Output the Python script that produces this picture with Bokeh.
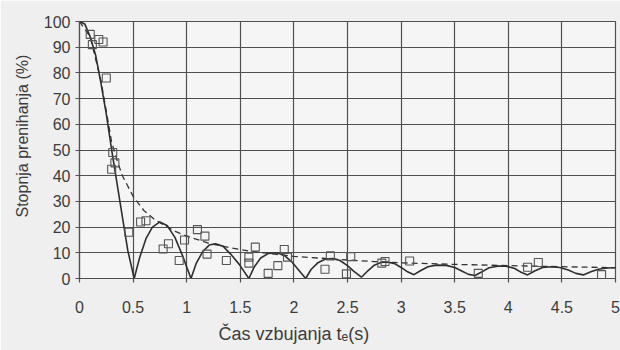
from bokeh.plotting import figure
from bokeh.models import Range1d, FixedTicker, Title
from bokeh.embed import file_html
from bokeh.resources import INLINE

# ---- data ----
curve_x = [0.00, 0.05, 0.10, 0.15, 0.20, 0.25, 0.30, 0.35, 0.40, 0.45, 0.51,
           0.56, 0.62, 0.68, 0.75, 0.82, 0.89, 0.96, 1.04,
           1.09, 1.15, 1.21, 1.27, 1.34, 1.41, 1.49, 1.58,
           1.63, 1.69, 1.76, 1.84, 1.91, 1.98, 2.04, 2.11,
           2.16, 2.22, 2.29, 2.36, 2.43, 2.50, 2.56, 2.63,
           2.69, 2.75, 2.81, 2.87, 2.94, 3.00, 3.06, 3.12,
           3.18, 3.25, 3.33, 3.42, 3.50, 3.57, 3.63, 3.69,
           3.75, 3.82, 3.90, 3.98, 4.06, 4.12, 4.18,
           4.25, 4.32, 4.40, 4.48, 4.56, 4.63, 4.70,
           4.77, 4.84, 4.92, 5.00]
curve_y = [100, 99, 94, 87, 76, 64, 50, 37, 24, 11, 0,
           8, 15.5, 20, 22, 20.5, 16, 9, 0,
           6, 10.5, 13, 13.5, 12.5, 9.5, 5.5, 0,
           4.5, 8, 9.7, 10, 9, 6.5, 3.5, 0,
           3.5, 6, 7.5, 7.8, 7, 5, 2.8, 0.5,
           3, 5.2, 6.2, 6.4, 5.8, 4.3, 2.6, 1.5,
           3, 4.6, 5.2, 5.1, 4.3, 2.8, 1.6, 1.2,
           2.5, 4.2, 4.8, 4.8, 3.9, 2.4, 1.4,
           3, 4.3, 4.6, 4.3, 3.3, 2, 1.4,
           2.6, 3.6, 4.1, 4.2]

env_x = [0.0, 0.1, 0.2, 0.3, 0.35, 0.4, 0.5, 0.6, 0.7, 0.8, 0.9, 1.0,
         1.2, 1.4, 1.6, 1.8, 2.0, 2.25, 2.5, 2.75, 3.0, 3.5, 4.0, 4.5, 5.0]
env_y = [100, 94, 77, 53, 46, 40, 32, 26.5, 23, 20.5, 18.2, 16.5,
         13.8, 12, 10.6, 9.6, 8.6, 7.9, 7.2, 6.6, 6.1, 5.5, 5.0, 4.6, 4.2]

meas_x = [0.10, 0.12, 0.18, 0.22, 0.25, 0.30, 0.31, 0.33, 0.46, 0.57, 0.62,
          0.78, 0.83, 0.93, 0.98, 1.10, 1.17, 1.19, 1.37, 1.58, 1.58, 1.64,
          1.76, 1.85, 1.91, 1.94, 2.29, 2.34, 2.49, 2.53, 2.82, 2.85, 3.08,
          3.72, 4.18, 4.28, 4.87]
meas_y = [95, 91, 93, 92, 78, 42.5, 49, 45, 18, 22, 22.5,
          11.5, 13.5, 7, 15, 19, 16.5, 9.5, 7, 8.3, 6, 12.2,
          2, 5, 11.3, 8.3, 3.6, 8.8, 1.8, 8.5, 6, 6.6, 6.8,
          2, 4.4, 6.2, 1.5]

x_ticks = [0, 0.5, 1, 1.5, 2, 2.5, 3, 3.5, 4, 4.5, 5]
x_tick_labels = ["0", "0.5", "1", "1.5", "2", "2.5", "3", "3.5", "4", "4.5", "5"]
y_ticks = [0, 10, 20, 30, 40, 50, 60, 70, 80, 90, 100]
y_tick_labels = ["0", "10", "20", "30", "40", "50", "60", "70", "80", "90", "100"]

x_title = "Čas vzbujanja tₑ(s)"
y_title = "Stopnja prenihanja (%)"

FONT = "Liberation Sans"
TXT = "#3c3c3c"
GRID = "#505050"

p = figure(width=620, height=350, output_backend="svg", toolbar_location=None,
           x_range=Range1d(0, 5), y_range=Range1d(0, 100),
           min_border_left=79, min_border_right=5, min_border_top=21,
           min_border_bottom=72)
p.background_fill_color = "#f5f5f5"
p.border_fill_color = "#efefef"
p.outline_line_color = GRID
p.outline_line_width = 1.2

p.xaxis.ticker = FixedTicker(ticks=x_ticks)
p.yaxis.ticker = FixedTicker(ticks=y_ticks)
p.xaxis.major_label_overrides = {(int(t) if float(t).is_integer() else t): l
                                 for t, l in zip(x_ticks, x_tick_labels)}
p.yaxis.major_label_overrides = {t: l for t, l in zip(y_ticks, y_tick_labels)}

for ax in (p.xaxis[0], p.yaxis[0]):
    ax.axis_line_color = GRID
    ax.axis_line_width = 1.2
    ax.major_tick_line_color = GRID
    ax.major_tick_line_width = 1.2
    ax.major_tick_in = 0
    ax.major_tick_out = 4
    ax.minor_tick_line_color = None
    ax.major_label_text_font = FONT
    ax.major_label_text_color = TXT
    ax.major_label_text_font_size = "16px"
p.xaxis.major_label_standoff = 18
p.yaxis.major_label_standoff = 5

p.xgrid.ticker = FixedTicker(ticks=x_ticks)
p.ygrid.ticker = FixedTicker(ticks=y_ticks)
for g in (p.xgrid[0], p.ygrid[0]):
    g.grid_line_color = GRID
    g.grid_line_width = 1.2
    g.grid_line_alpha = 1.0

p.line(env_x, env_y, line_color="#333333", line_width=1.3, line_dash="6 4")
p.line(curve_x, curve_y, line_color="#2e2e2e", line_width=1.6)
p.scatter(meas_x, meas_y, marker="square", size=8, fill_color=None,
          line_color="#555555", line_width=1.1)

p.add_layout(Title(text=x_title, align="left", offset=139, standoff=13,
                   text_font=FONT, text_font_size="18px", text_font_style="normal",
                   text_color=TXT), "below")
p.add_layout(Title(text=y_title, align="left", offset=61, standoff=20,
                   text_font=FONT, text_font_size="16px", text_font_style="normal",
                   text_color=TXT), "left")

open("out.html", "w").write(file_html(p, INLINE))
